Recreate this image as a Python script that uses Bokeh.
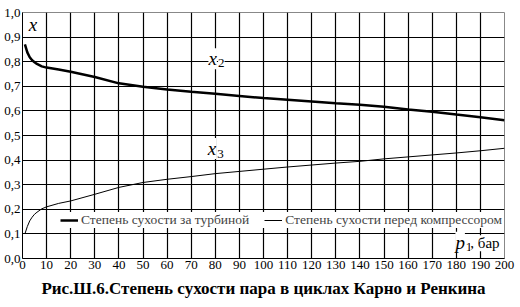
from bokeh.plotting import figure
from bokeh.models import (Legend, LegendItem, Label, Title, FixedTicker,
                          CustomJSTickFormatter, Range1d)
from bokeh.embed import file_html
from bokeh.resources import INLINE

# pressure p1, bar
p_bar = [1, 2, 3, 4, 5, 6, 8, 10, 15, 20, 30, 40, 50, 60, 70, 80, 90, 100,
         110, 120, 130, 140, 150, 160, 170, 180, 190, 200]
# dryness after turbine (x2)
x2_turbine = [0.870, 0.838, 0.818, 0.806, 0.798, 0.791, 0.781, 0.776, 0.768,
              0.759, 0.738, 0.712, 0.698, 0.687, 0.678, 0.670, 0.661, 0.652,
              0.645, 0.638, 0.631, 0.625, 0.617, 0.606, 0.597, 0.585, 0.574,
              0.562]
# dryness before compressor (x3)
x3_compressor = [0.100, 0.130, 0.153, 0.168, 0.180, 0.188, 0.202, 0.210,
                 0.224, 0.234, 0.261, 0.289, 0.309, 0.322, 0.333, 0.345,
                 0.354, 0.363, 0.372, 0.380, 0.388, 0.395, 0.405, 0.413,
                 0.421, 0.429, 0.438, 0.448]

x_ticks = list(range(0, 201, 10))
y_ticks = [i / 10 for i in range(11)]

legend_labels = ["Степень сухости за турбиной",
                 "Степень сухости перед компрессором"]
caption = "Рис.Ш.6.Степень сухости пара в циклах Карно и Ренкина"

FONT = "'Liberation Serif', 'Times New Roman', 'DejaVu Serif', serif"

p = figure(width=520, height=307, output_backend="svg", toolbar_location=None,
           x_range=Range1d(0, 200), y_range=Range1d(0, 1),
           min_border_left=22, min_border_right=16, min_border_top=12,
           min_border_bottom=49)
p.background_fill_color = "white"
p.border_fill_color = "white"
p.outline_line_color = "#888888"

for ax in (p.xaxis[0], p.yaxis[0]):
    ax.axis_line_color = "black"
    ax.major_tick_out = 0
    ax.major_tick_in = 0
    ax.minor_tick_out = 0
    ax.minor_tick_in = 0
    ax.major_label_text_font = FONT
    ax.major_label_text_font_size = "13px"
    ax.major_label_text_color = "black"
    ax.major_label_standoff = 2

p.xaxis[0].ticker = FixedTicker(ticks=x_ticks)
p.yaxis[0].ticker = FixedTicker(ticks=y_ticks)
p.yaxis[0].formatter = CustomJSTickFormatter(
    code="return tick.toFixed(1).replace('.', ',');")

for g in (p.xgrid[0], p.ygrid[0]):
    g.grid_line_color = "black"
    g.grid_line_alpha = 1.0
    g.grid_line_width = 1.2
p.xgrid.ticker = FixedTicker(ticks=x_ticks)
p.ygrid.ticker = FixedTicker(ticks=y_ticks)

r2 = p.line(p_bar, x2_turbine, line_color="black", line_width=2.5)
r3 = p.line(p_bar, x3_compressor, line_color="black", line_width=1)

legend = Legend(items=[LegendItem(label=legend_labels[0], renderers=[r2]),
                       LegendItem(label=legend_labels[1], renderers=[r3])],
                orientation="horizontal", location=(38, 30),
                background_fill_color="white", background_fill_alpha=1,
                border_line_color=None, label_text_font=FONT,
                label_text_font_size="13.5px", glyph_width=18, glyph_height=14,
                padding=2, spacing=15, margin=0, label_standoff=3,
                label_height=14)
p.add_layout(legend)

def lab(x, y, text, size, style="normal", bg=True, align="center"):
    p.add_layout(Label(x=x, y=y, text=text, text_font=FONT,
                       text_font_size=size, text_font_style=style,
                       text_align=align, text_baseline="middle",
                       background_fill_color="white" if bg else None,
                       text_color="black"))

lab(4.3, 0.952, "x", "19px", "italic", bg=False)
lab(78.9, 0.812, "x", "19px", "italic")
lab(82.5, 0.793, "2", "13px")
lab(78.6, 0.447, "x", "19px", "italic")
lab(82.2, 0.425, "3", "13px")
lab(181.6, 0.066, "p", "19px", "italic")
lab(183.9, 0.045, "1", "13px", align="left")
lab(185.8, 0.062, ", бар", "15px", align="left")

t = Title(text=caption, align="center", text_font=FONT,
          text_font_size="17px", text_font_style="bold", text_color="black")
p.add_layout(t, "below")

open("out.html", "w").write(file_html(p, INLINE))
